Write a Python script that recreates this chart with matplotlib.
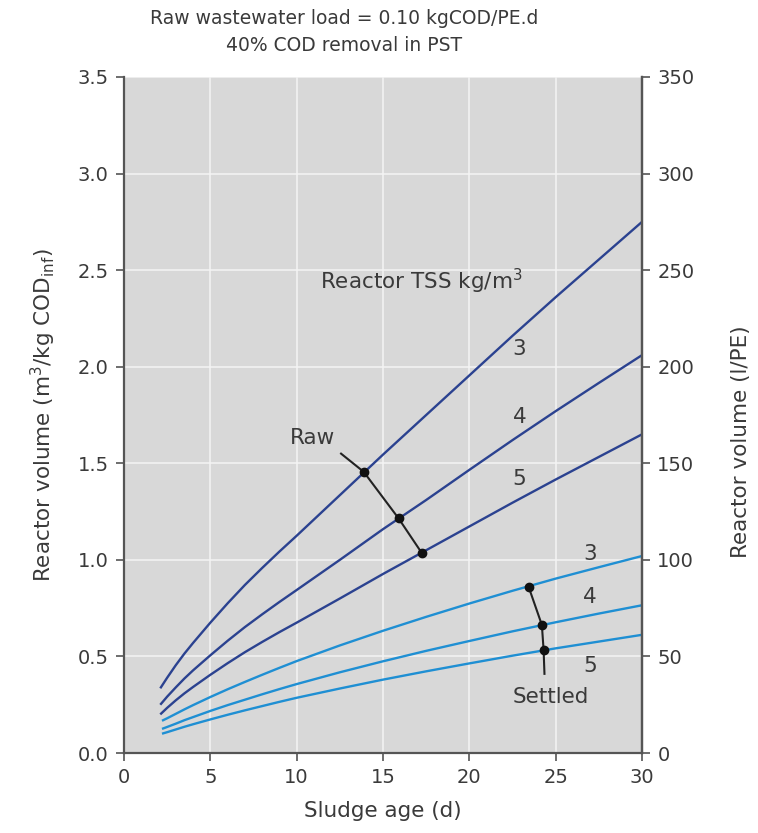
import matplotlib
matplotlib.use("Agg")
import matplotlib.pyplot as plt

plt.rcParams['font.family'] = ['DejaVu Sans']
plt.rcParams['mathtext.fontset'] = 'dejavusans'

# Sludge age (d)
sludge_age_raw = [2.1, 2.5, 3, 3.5, 4, 5, 6, 7, 8, 9, 10, 12.5, 15, 17.5, 20, 22.5, 25, 27.5, 30]
sludge_age_settled = [2.2, 2.5, 3, 3.5, 4, 5, 6, 7, 8, 9, 10, 12.5, 15, 17.5, 20, 22.5, 25, 27.5, 30]

# Reactor volume (m3/kg COD inf), raw wastewater
raw_tss3 = [0.335, 0.39, 0.455, 0.515, 0.57, 0.675, 0.775, 0.87, 0.958, 1.043, 1.125,
            1.335, 1.545, 1.75, 1.955, 2.16, 2.36, 2.555, 2.75]
raw_tss4 = [0.25, 0.292, 0.34, 0.386, 0.428, 0.506, 0.581, 0.652, 0.718, 0.782, 0.844,
            1.0, 1.159, 1.31, 1.466, 1.62, 1.77, 1.916, 2.06]
raw_tss5 = [0.20, 0.234, 0.273, 0.309, 0.342, 0.405, 0.465, 0.522, 0.575, 0.626, 0.675,
            0.80, 0.927, 1.05, 1.173, 1.296, 1.416, 1.533, 1.65]

# Settled wastewater
set_tss3 = [0.167, 0.18, 0.203, 0.226, 0.248, 0.29, 0.33, 0.368, 0.405, 0.441, 0.476,
            0.557, 0.633, 0.705, 0.774, 0.84, 0.903, 0.962, 1.02]
set_tss4 = [0.125, 0.135, 0.152, 0.17, 0.186, 0.218, 0.248, 0.276, 0.304, 0.331, 0.357,
            0.418, 0.475, 0.529, 0.58, 0.63, 0.677, 0.722, 0.765]
set_tss5 = [0.10, 0.108, 0.122, 0.136, 0.149, 0.174, 0.198, 0.221, 0.243, 0.265, 0.286,
            0.334, 0.38, 0.423, 0.464, 0.504, 0.542, 0.577, 0.612]

# Marker points
raw_pts_x = [13.88, 15.9, 17.25]
raw_pts_y = [1.456, 1.215, 1.035]
set_pts_x = [23.43, 24.2, 24.3]
set_pts_y = [0.861, 0.663, 0.533]

x_ticks = [0, 5, 10, 15, 20, 25, 30]
y_ticks = [0.0, 0.5, 1.0, 1.5, 2.0, 2.5, 3.0, 3.5]
y2_ticks = [0, 50, 100, 150, 200, 250, 300, 350]

DARK = '#2b4290'
LIGHT = '#1f8fd3'
TXT = '#3a3a3a'
FS = 14      # tick labels
FS_T = 13.5  # title
FS_L = 15.5  # axis labels
FS_A = 15.5  # annotations

fig = plt.figure(figsize=(7.58, 8.33), dpi=100)
ax = fig.add_axes([0.1636, 0.096, 0.6834, 0.8116])
ax.set_facecolor('#d8d8d8')
ax.set_xlim(0, 30)
ax.set_ylim(0, 3.5)
ax.set_xticks(x_ticks)
ax.set_yticks(y_ticks)
ax.set_yticklabels([f"{v:.1f}" for v in y_ticks])
ax.grid(True, color='#f4f4f4', lw=1.4, alpha=0.8)
ax.set_axisbelow(True)

ax.spines['top'].set_visible(False)
for s in ['left', 'bottom', 'right']:
    ax.spines[s].set_color('#555555')
    ax.spines[s].set_linewidth(1.6)

ax.tick_params(axis='both', direction='out', length=6, width=1.2, color='#555555',
               labelsize=FS, labelcolor=TXT, pad=5)

for y in (raw_tss3, raw_tss4, raw_tss5):
    ax.plot(sludge_age_raw, y, color=DARK, lw=1.7, solid_capstyle='butt')
for y in (set_tss3, set_tss4, set_tss5):
    ax.plot(sludge_age_settled, y, color=LIGHT, lw=1.7, solid_capstyle='butt')

# connector lines and dots
ax.plot([12.57] + raw_pts_x, [1.55] + raw_pts_y, color='#222222', lw=1.5)
ax.plot(raw_pts_x, raw_pts_y, 'o', color='#111111', ms=6)
ax.plot(set_pts_x + [24.35], set_pts_y + [0.41], color='#222222', lw=1.5)
ax.plot(set_pts_x, set_pts_y, 'o', color='#111111', ms=6)

# annotations
ax.text(17.2, 2.44, 'Reactor TSS kg/m$^3$', fontsize=FS_A, color=TXT, ha='center', va='center')
ax.text(22.9, 2.09, '3', fontsize=FS_A, color=TXT, ha='center', va='center')
ax.text(22.9, 1.74, '4', fontsize=FS_A, color=TXT, ha='center', va='center')
ax.text(22.9, 1.42, '5', fontsize=FS_A, color=TXT, ha='center', va='center')
ax.text(10.9, 1.63, 'Raw', fontsize=FS_A, color=TXT, ha='center', va='center')
ax.text(27.0, 1.03, '3', fontsize=FS_A, color=TXT, ha='center', va='center')
ax.text(27.0, 0.81, '4', fontsize=FS_A, color=TXT, ha='center', va='center')
ax.text(27.0, 0.45, '5', fontsize=FS_A, color=TXT, ha='center', va='center')
ax.text(24.7, 0.29, 'Settled', fontsize=FS_A, color=TXT, ha='center', va='center')

ax.set_xlabel('Sludge age (d)', fontsize=FS_L, color=TXT, labelpad=10)
ax.set_ylabel('Reactor volume (m$^3$/kg COD$_{\\mathrm{inf}}$)', fontsize=FS_L, color=TXT, labelpad=14)

ax2 = ax.twinx()
ax2.set_ylim(0, 350)
ax2.set_yticks(y2_ticks)
ax2.spines['top'].set_visible(False)
ax2.spines['right'].set_color('#555555')
ax2.spines['right'].set_linewidth(1.6)
ax2.spines['left'].set_visible(False)
ax2.spines['bottom'].set_visible(False)
ax2.tick_params(axis='y', direction='out', length=6, width=1.2, color='#555555',
                labelsize=FS, labelcolor=TXT, pad=5)
ax2.set_ylabel('Reactor volume (l/PE)', fontsize=FS_L, color=TXT, labelpad=26)
ax2.yaxis.label.set_y(0.46)

fig.text(0.454, 0.978, 'Raw wastewater load = 0.10 kgCOD/PE.d', fontsize=FS_T, color=TXT,
         ha='center', va='center')
fig.text(0.454, 0.945, '40% COD removal in PST', fontsize=FS_T, color=TXT,
         ha='center', va='center')

fig.savefig('out.png', dpi=100)
